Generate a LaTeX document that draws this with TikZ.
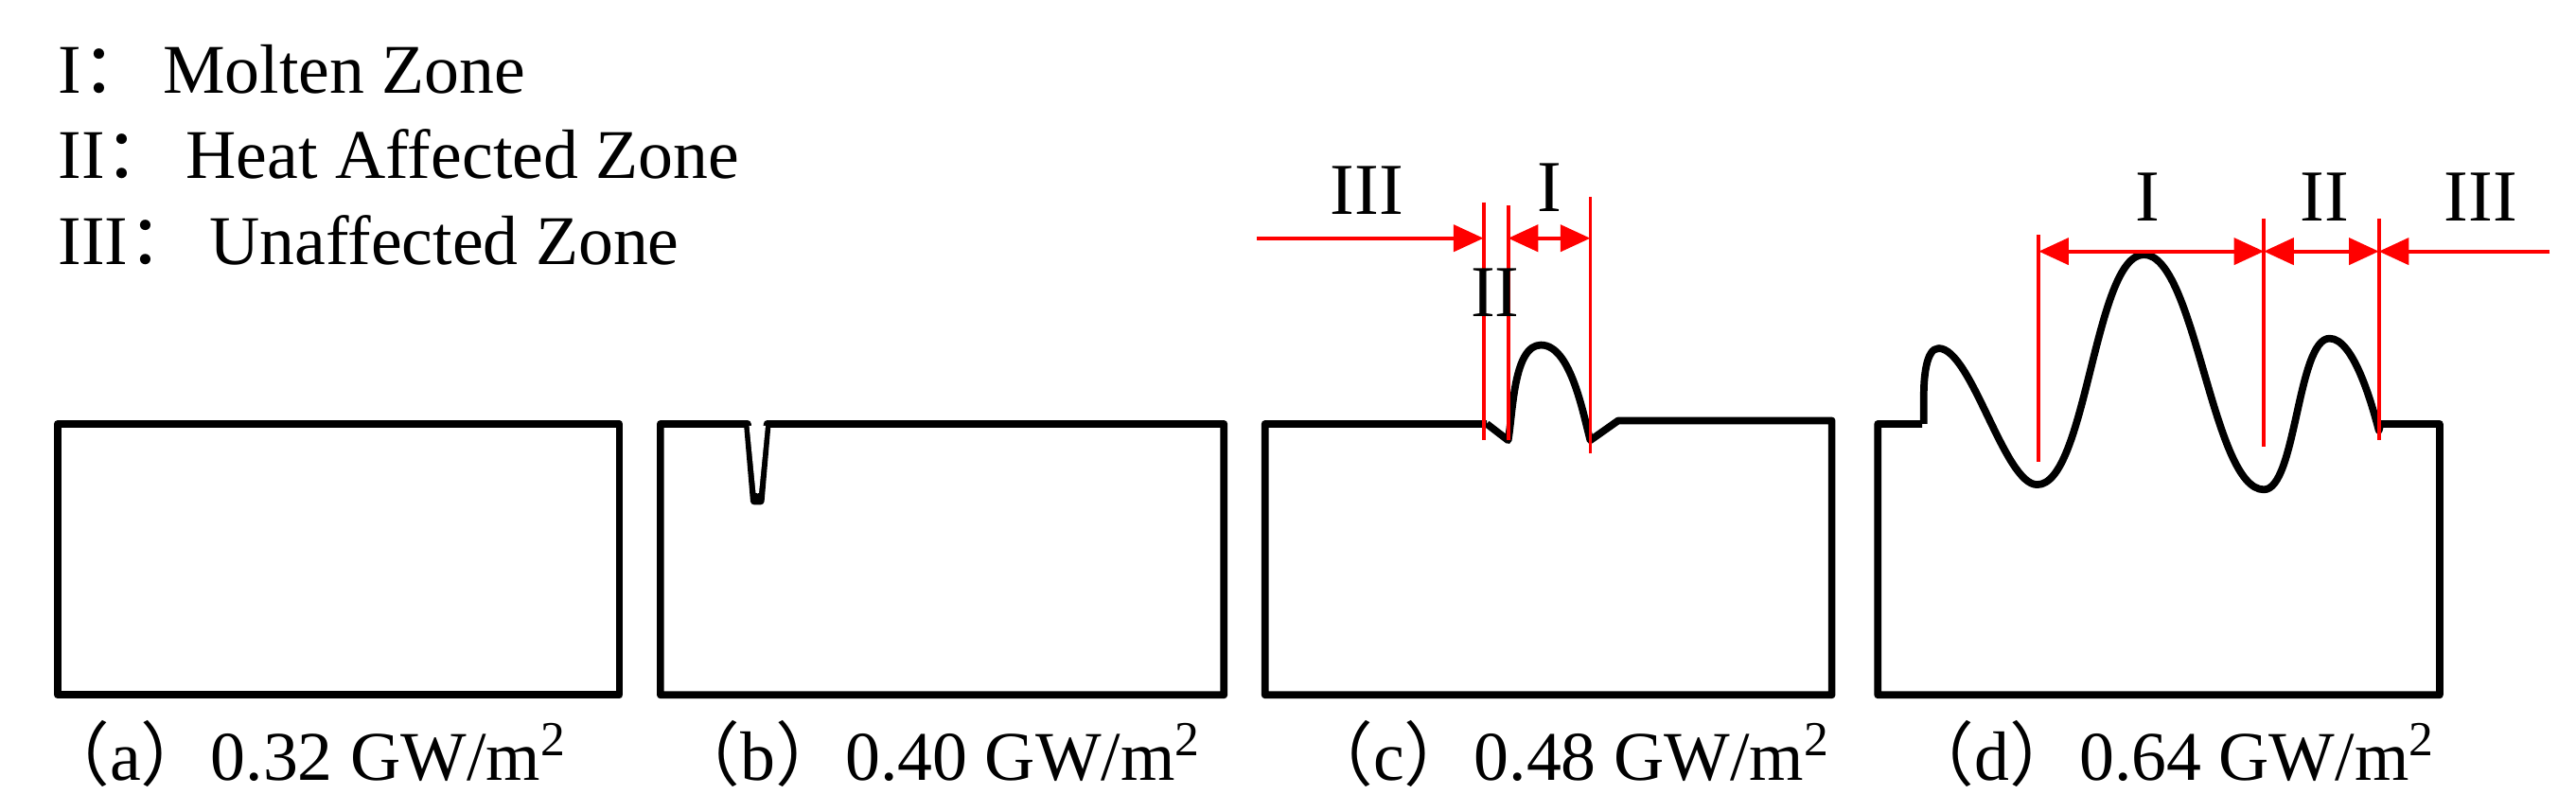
\documentclass[tikz,border=0pt]{standalone}
\usepackage{fontspec}
\setmainfont{Liberation Serif}
\newfontfamily\cjk{Noto Sans CJK SC}
\usetikzlibrary{arrows.meta}
\begin{document}
\begin{tikzpicture}[x=0.01736cm,y=-0.01736cm,
  body/.style={line width=2.2pt,line join=round},
  red/.style={draw=red,line width=1.1pt},
  arr/.style={red,-{Triangle[length=9pt,width=8pt]}},
  darr/.style={red,{Triangle[length=9pt,width=8pt]}-{Triangle[length=9pt,width=8pt]}},
  lbl/.style={font=\fontsize{21}{24}\selectfont,inner sep=0pt},
  zl/.style={font=\fontsize{22}{24}\selectfont,inner sep=0pt},
  w/.style={looseness=0.5}]
\useasboundingbox (0,0) rectangle (1568,494);
% legend
\node[lbl,anchor=west] (l1) at (35,42) {I{\cjk：}\,Molten Zone};
\node[lbl,anchor=west] (l2) at (35,94) {II{\cjk：}\,Heat Affected Zone};
\node[lbl,anchor=west] (l3) at (35,146) {III{\cjk：}\,Unaffected Zone};
% (a)
\draw[body] (35,258) rectangle (377,423);
% (b)
\draw[body] (455,258) -- (402,258) -- (402,423) -- (745,423) -- (745,258) -- (467,258)
  -- (463,305) -- (459,305) -- cycle;
\fill[white] (456,259.2) -- (466,259.2) -- (462,300) -- (460,300) -- cycle;
% (c)
\draw[body] (905,258) -- (770,258) -- (770,423) -- (1115,423) -- (1115,256) -- (985,256)
  -- (968,268) to[out=105,in=0,looseness=0.7] (938,210) to[out=180,in=80,looseness=0.7] (918,268) -- (905,258);
\draw[red] (903,123) -- (903,268);
\draw[red] (918,125) -- (918,268);
\draw[red] (968,120) -- (968,276);
\coordinate (c0) at (765,145);
\coordinate (c1) at (903,145);
\coordinate (c2) at (918,145);
\coordinate (c3) at (968,145);
\draw[arr] (c0) -- (c1);
\draw[darr] (c2) -- (c3);
\node[zl] (c3l) at (832,116) {III};
\node[zl] (c1l) at (943,114) {I};
\node[zl] (c2l) at (910,178) {II};
% (d)
\draw[body] (1170,258) -- (1143,258) -- (1143,423) -- (1485,423) -- (1485,258) -- (1449,258)
  -- (1448,262) to[out=105,in=0,looseness=0.6] (1418,206) to[out=180,in=0,w] (1378,298)
  to[out=180,in=0,w] (1305,155) to[out=180,in=0,w] (1240,295) to[out=180,in=0,w] (1180,212)
  to[out=180,in=90,looseness=0.7] (1171,240) -- (1171,258);
\draw[red] (1241,143) -- (1241,281);
\draw[red] (1378,133) -- (1378,272);
\draw[red] (1448,133) -- (1448,268);
\coordinate (d1) at (1241,153);
\coordinate (d2) at (1378,153);
\coordinate (d3) at (1448,153);
\coordinate (d4) at (1552,153);
\draw[darr] (d1) -- (d2);
\draw[darr] (d2) -- (d3);
\draw[arr] (d4) -- (d3);
\node[zl] (d1l) at (1307,120) {I};
\node[zl] (d2l) at (1415,120) {II};
\node[zl] (d3l) at (1510,120) {III};
% captions
\node[lbl,anchor=west] (ca) at (24,459) {{\cjk（}a{\cjk）}0.32 GW/m\textsuperscript{2}};
\node[lbl,anchor=west] (cb) at (408,459) {{\cjk（}b{\cjk）}0.40 GW/m\textsuperscript{2}};
\node[lbl,anchor=west] (cc) at (793,459) {{\cjk（}c{\cjk）}0.48 GW/m\textsuperscript{2}};
\node[lbl,anchor=west] (cd) at (1159,459) {{\cjk（}d{\cjk）}0.64 GW/m\textsuperscript{2}};
\end{tikzpicture}
\end{document}
